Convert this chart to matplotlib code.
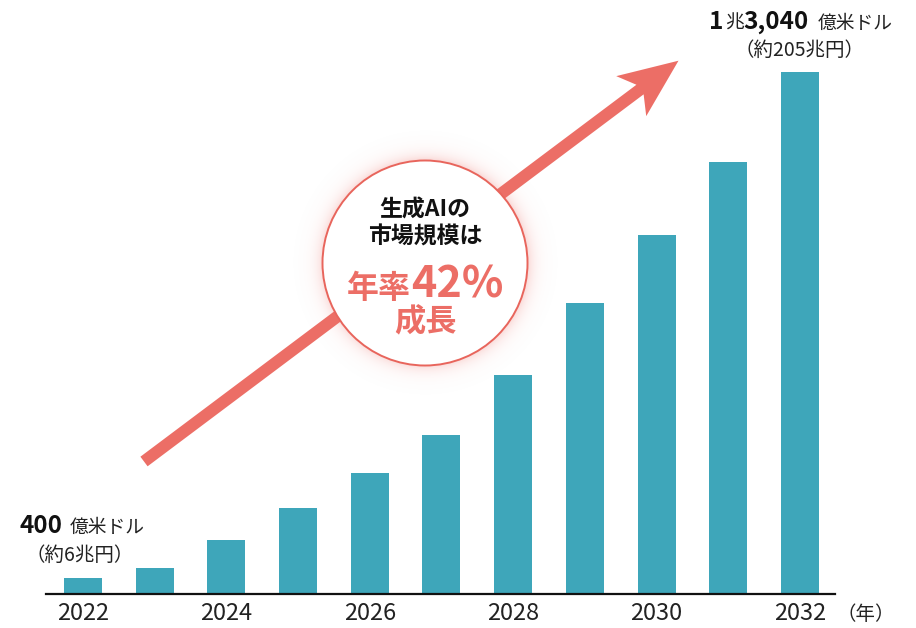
import numpy as np
import matplotlib
matplotlib.use("Agg")
import matplotlib.pyplot as plt
from matplotlib.patches import Polygon, Circle

plt.rcParams['font.family'] = ['Noto Sans CJK JP', 'DejaVu Sans']

# ---- data (億米ドル) ----
years = ["2022", "2023", "2024", "2025", "2026", "2027", "2028", "2029", "2030", "2031", "2032"]
market = [400, 660, 1360, 2160, 3030, 3980, 5480, 7270, 8960, 10790, 13040]
tick_years = ["2022", "2024", "2026", "2028", "2030", "2032"]

BAR = "#3EA6BA"
RED = "#EC6E66"
W, H = 916, 628

fig = plt.figure(figsize=(W / 100, H / 100), dpi=100)
ax = fig.add_axes([46 / W, (H - 594) / H, (835 - 46) / W, 594 / H])
x = np.arange(len(years))
ax.bar(x, market, width=0.53, color=BAR, zorder=2)
ax.set_xlim(-0.513, 10.488)
ax.set_ylim(0, 594 * 13040 / 521.9)
for s in ["top", "left", "right"]:
    ax.spines[s].set_visible(False)
ax.spines["bottom"].set_linewidth(1.6)
ax.spines["bottom"].set_color("#111111")
ax.set_yticks([])
ax.set_xticks([years.index(t) for t in tick_years])
ax.set_xticklabels(tick_years, fontsize=17, color="#222222")
ax.tick_params(axis="x", length=0, pad=6)
ax.patch.set_visible(False)

# ---- overlay in pixel coordinates ----
ov = fig.add_axes([0, 0, 1, 1])
ov.set_xlim(0, W)
ov.set_ylim(H, 0)
ov.axis("off")
ov.patch.set_visible(False)

# arrow
tail = np.array([144.0, 461.5])
tip = np.array([678.5, 60.7])
L = np.linalg.norm(tip - tail)
u = (tip - tail) / L
n = np.array([-u[1], u[0]])
hw = 6.0
pts = [tail + n * hw,
       tail + u * 620 + n * hw,
       tail + u * 609 + n * 25,
       tip,
       tail + u * 609 - n * 25,
       tail + u * 620 - n * hw,
       tail - n * hw]
ov.add_patch(Polygon(pts, closed=True, facecolor=RED, edgecolor="none", zorder=3))

# glow around circle
cx, cy, r = 425.0, 263.0, 102.5
ext = r + 30
gx = np.linspace(cx - ext, cx + ext, 400)
gy = np.linspace(cy - ext, cy + ext, 400)
GX, GY = np.meshgrid(gx, gy)
D = np.sqrt((GX - cx) ** 2 + (GY - cy) ** 2)
alpha = np.where(D > r - 2, 0.28 * np.exp(-np.clip(D - r, 0, None) / 7.0), 0.0)
rgba = np.zeros((400, 400, 4))
rgba[..., 0] = 0.93
rgba[..., 1] = 0.45
rgba[..., 2] = 0.42
rgba[..., 3] = alpha
ov.imshow(rgba, extent=(cx - ext, cx + ext, cy + ext, cy - ext), zorder=4, interpolation="bilinear")
ov.add_patch(Circle((cx, cy), r, facecolor="white", edgecolor="#E8655C", linewidth=1.4, zorder=5))
ov.set_xlim(0, W)
ov.set_ylim(H, 0)

# circle texts
ov.text(cx, 210, "生成AIの", ha="center", va="center", fontsize=16.5, fontweight="bold", color="#111111", zorder=6)
ov.text(cx, 237, "市場規模は", ha="center", va="center", fontsize=16.5, fontweight="bold", color="#111111", zorder=6)

fig.canvas.draw()
renderer = fig.canvas.get_renderer()


def chain(pieces, center_x, baseline_y, zorder=6):
    objs = []
    widths = []
    for txt, size, weight, color, gap in pieces:
        t = ov.text(0, baseline_y, txt, ha="left", va="baseline", fontsize=size,
                    fontweight=weight, color=color, zorder=zorder)
        bb = t.get_window_extent(renderer=renderer)
        objs.append((t, gap))
        widths.append(bb.width)
    total = sum(widths) + sum(g for _, g in objs[:-1])
    xpos = center_x - total / 2
    for (t, gap), w in zip(objs, widths):
        t.set_x(xpos)
        xpos += w + gap


chain([("年率", 23, "bold", RED, 0), ("42%", 31, "bold", RED, 0)], cx, 298)
ov.text(cx, 322, "成長", ha="center", va="center", fontsize=22.5, fontweight="bold", color=RED, zorder=6)

# value labels
chain([("400", 17.5, "bold", "#111111", 8), ("億米ドル", 13.5, "normal", "#222222", 0)], 82, 533)
ov.text(80, 555, "（約6兆円）", ha="center", va="center", fontsize=14, color="#222222")
chain([("1", 17.5, "bold", "#111111", 1), ("兆", 13.5, "normal", "#222222", 0),
       ("3,040", 17.5, "bold", "#111111", 9), ("億米ドル", 13.5, "normal", "#222222", 0)], 801, 29)
ov.text(799, 50, "（約205兆円）", ha="center", va="center", fontsize=14, color="#222222")

ov.text(866, 614, "（年）", ha="center", va="center", fontsize=14, color="#222222")

fig.savefig("out.png", dpi=100)
